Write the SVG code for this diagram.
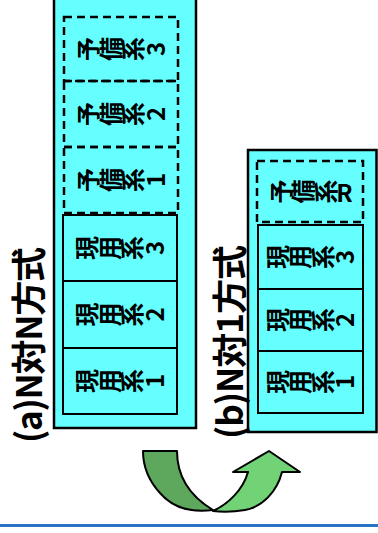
<svg xmlns="http://www.w3.org/2000/svg" width="378" height="533" viewBox="0 0 378 533">
<style>
.outer{fill:#66ffff;stroke:#000;stroke-width:2.5}
.box{fill:#66ffff;stroke:#000;stroke-width:2}
.dash{fill:none;stroke:#000;stroke-width:2.5;stroke-dasharray:8 5}
.lbl{font-family:"Noto Sans CJK JP","Noto Sans",sans-serif;font-weight:bold;font-size:24px;letter-spacing:-1.5px;fill:#000;writing-mode:vertical-rl;text-orientation:upright}
.lblm{font-family:"Noto Sans CJK JP","Noto Sans",sans-serif;font-weight:bold;font-size:24px;letter-spacing:-1.5px;fill:#000;writing-mode:vertical-rl;text-orientation:mixed}
.title{font-family:"Noto Sans CJK JP","Noto Sans",sans-serif;font-weight:bold;font-size:35px;fill:#000}
.arrow{stroke:#000;stroke-width:2;stroke-linejoin:round}
</style>
<g id="panel-a">
<rect class="outer" x="54" y="-5" width="142" height="433"/>
<g id="a-spare3"><rect class="dash" x="64" y="17" width="114" height="64"/><text class="lbl" transform="translate(121,49) rotate(-90)" text-anchor="middle">予備系3</text></g>
<g id="a-spare2"><rect class="dash" x="64" y="81" width="114" height="66"/><text class="lbl" transform="translate(121,114) rotate(-90)" text-anchor="middle">予備系2</text></g>
<g id="a-spare1"><rect class="dash" x="64" y="147" width="114" height="66"/><text class="lbl" transform="translate(121,180) rotate(-90)" text-anchor="middle">予備系1</text></g>
<g id="a-work3"><rect class="box" x="63" y="215" width="114" height="66"/><text class="lbl" transform="translate(120,248) rotate(-90)" text-anchor="middle">現用系3</text></g>
<g id="a-work2"><rect class="box" x="63" y="281" width="114" height="67"/><text class="lbl" transform="translate(120,314.5) rotate(-90)" text-anchor="middle">現用系2</text></g>
<g id="a-work1"><rect class="box" x="63" y="348" width="114" height="66"/><text class="lbl" transform="translate(120,381) rotate(-90)" text-anchor="middle">現用系1</text></g>
<text id="a-title" class="title" transform="translate(26,345) rotate(-90)" text-anchor="middle" dominant-baseline="central" textLength="196" lengthAdjust="spacing">(a)N対N方式</text>
</g>
<g id="panel-b">
<rect class="outer" x="248" y="150" width="128.5" height="282"/>
<g id="b-spareR"><rect class="dash" x="257" y="161" width="106" height="61"/><text class="lblm" transform="translate(310,191.5) rotate(-90)" text-anchor="middle">予備系R</text></g>
<g id="b-work3"><rect class="box" x="258" y="225" width="105" height="64"/><text class="lbl" transform="translate(310.5,257) rotate(-90)" text-anchor="middle">現用系3</text></g>
<g id="b-work2"><rect class="box" x="258" y="289" width="105" height="62"/><text class="lbl" transform="translate(310.5,320) rotate(-90)" text-anchor="middle">現用系2</text></g>
<g id="b-work1"><rect class="box" x="258" y="351" width="105" height="62"/><text class="lbl" transform="translate(310.5,382) rotate(-90)" text-anchor="middle">現用系1</text></g>
<text id="b-title" class="title" transform="translate(227,342) rotate(-90)" text-anchor="middle" dominant-baseline="central" textLength="194" lengthAdjust="spacing">(b)N対1方式</text>
</g>
<g id="connectors">
<path class="arrow" fill="#5ea85e" d="M143,451 L177,451 C177,475 188,495 213,510 C190,513 172,507 160,493 C149,481 143,468 143,451 Z"/>
<path class="arrow" fill="#72d276" d="M213,511 C228,504 243,490 248,472 L233,472 L269,451 L300,472 L282,472 C277,492 262,507 245,510 C233,512 222,512 213,511 Z"/>
<line x1="0" y1="525.5" x2="378" y2="525.5" stroke="#2a72c6" stroke-width="3"/>
</g>
</svg>
